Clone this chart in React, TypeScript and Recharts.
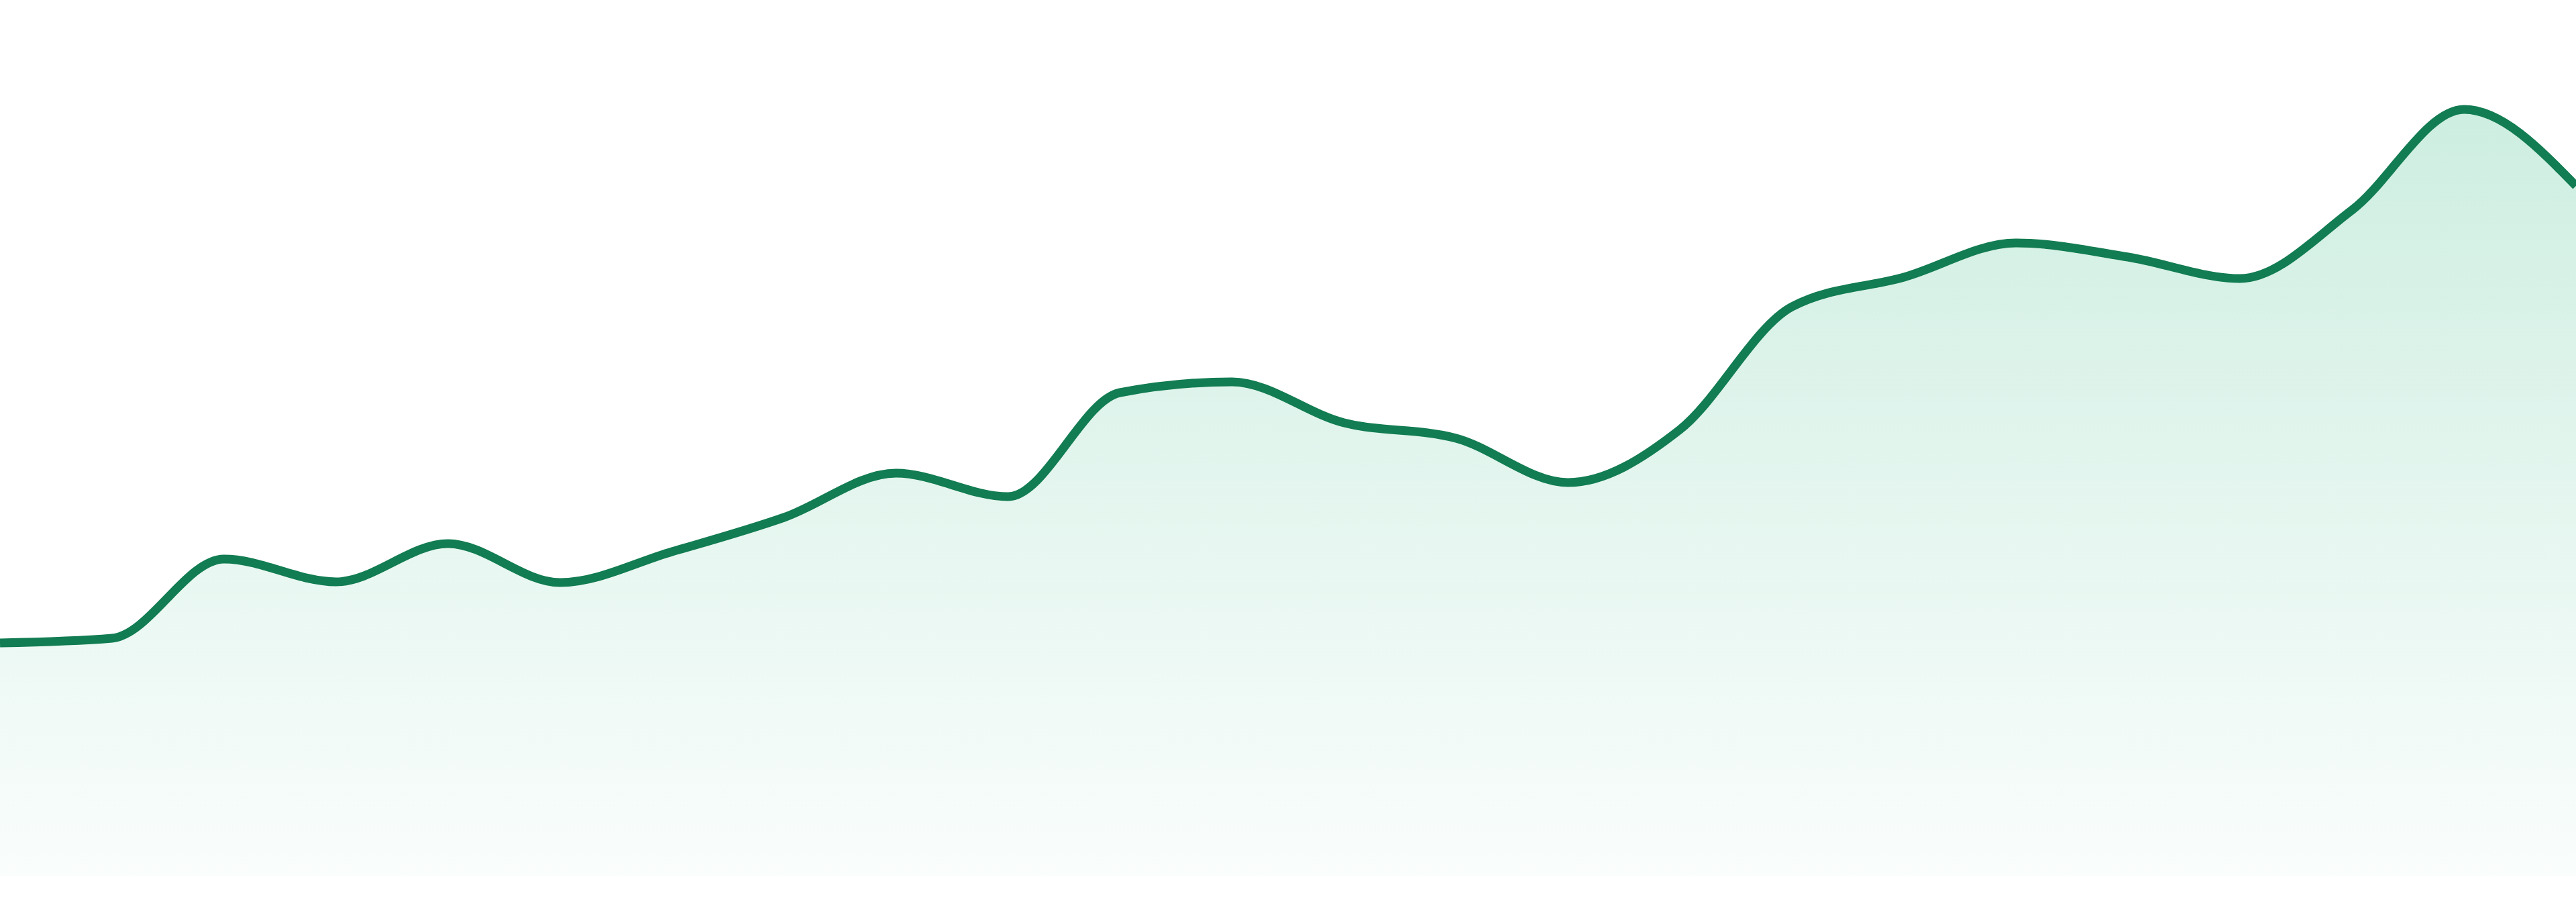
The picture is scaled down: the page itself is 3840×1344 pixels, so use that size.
import React from "react";
import { AreaChart, Area, XAxis, YAxis } from "recharts";

const categories: string[] = [
  "P1", "P2", "P3", "P4", "P5", "P6", "P7", "P8", "P9", "P10", "P11", "P12",
  "P13", "P14", "P15", "P16", "P17", "P18", "P19", "P20", "P21", "P22", "P23", "P24",
];

const seriesValues: number[] = [
  34.7, 35.4, 47.2, 43.8, 49.5, 43.7, 48.3, 53.4, 60.0, 56.5, 72.0, 73.6,
  67.5, 65.2, 58.6, 66.5, 84.8, 89.2, 94.3, 92.2, 89.0, 99.2, 114.2, 102.8,
];

const yDomain: [number, number] = [0, 130.5];

const data = categories.map((c, i) => ({ name: c, value: seriesValues[i] }));

export default function App() {
  return (
    <div style={{ position: "absolute", left: 0, top: 0, width: 3840, height: 1344, background: "#ffffff" }}>
      <AreaChart
        width={3840}
        height={1344}
        data={data}
        margin={{ top: 0, right: 0, left: 0, bottom: 39 }}
      >
        <defs>
          <linearGradient id="fillGrad" x1="0" y1="0" x2="0" y2="1">
            <stop offset="0%" stopColor="#27b47c" stopOpacity={0.38} />
            <stop offset="100%" stopColor="#27b47c" stopOpacity={0.04} />
          </linearGradient>
        </defs>
        <XAxis dataKey="name" hide />
        <YAxis hide domain={yDomain} />
        <Area
          type="monotone"
          dataKey="value"
          stroke="#127c52"
          strokeWidth={13}
          fill="url(#fillGrad)"
          dot={false}
          activeDot={false}
          isAnimationActive={false}
        />
      </AreaChart>
    </div>
  );
}
